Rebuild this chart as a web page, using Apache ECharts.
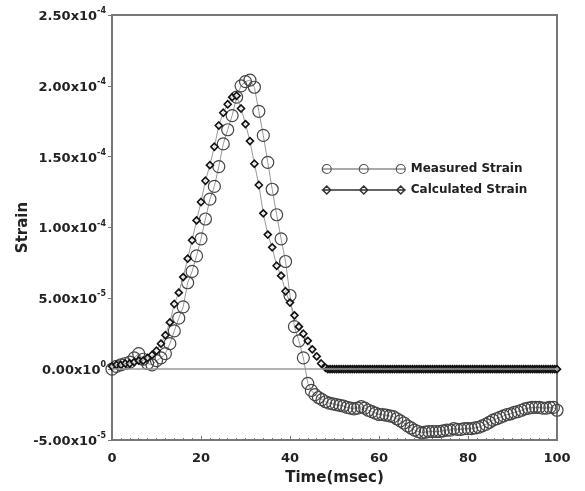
<!DOCTYPE html>
<html><head><meta charset="utf-8">
<script src="https://cdn.jsdelivr.net/npm/echarts@6/dist/echarts.min.js"></script>
<style>html,body{margin:0;padding:0;background:#fff}#c{width:585px;height:491px}</style>
</head><body><div id="c"></div>
<script>
// Time in msec, strain values in units of 1e-5
const measuredTime = [0,1,2,3,4,5,6,7,8,9,10,11,12,13,14,15,16,17,18,19,20,21,22,23,24,25,26,27,28,29,30,31,32,33,34,35,36,37,38,39,40,41,42,43,
  44,44.8,45.6,46.4,47.2,48,48.8,49.6,50.4,51.2,52,52.8,53.6,54.4,55.2,56,56.8,57.6,58.4,59.2,60,60.8,61.6,62.4,63.2,64,64.8,65.6,66.4,67.2,68,68.8,69.6,70.4,71.2,72,72.8,73.6,74.4,75.2,76,76.8,77.6,78.4,79.2,80,80.8,81.6,82.4,83.2,84,84.8,85.6,86.4,87.2,88,88.8,89.6,90.4,91.2,92,92.8,93.6,94.4,95.2,96,96.8,97.6,98.4,99.2,100];
const measuredStrain = [0.0,0.2,0.3,0.4,0.5,0.8,1.1,0.7,0.4,0.3,0.6,0.8,1.1,1.8,2.7,3.6,4.4,6.1,6.9,8.0,9.2,10.6,12.0,12.9,14.3,15.9,16.9,17.9,19.2,20.0,20.3,20.4,19.9,18.2,16.5,14.6,12.7,10.9,9.2,7.6,5.2,3.0,2.0,0.8,
  -1.0,-1.5,-1.8,-2.0,-2.15,-2.3,-2.4,-2.45,-2.5,-2.55,-2.6,-2.7,-2.75,-2.8,-2.75,-2.65,-2.75,-2.9,-3.0,-3.1,-3.2,-3.2,-3.25,-3.3,-3.35,-3.5,-3.65,-3.8,-4.0,-4.15,-4.3,-4.4,-4.5,-4.45,-4.4,-4.4,-4.4,-4.4,-4.35,-4.3,-4.3,-4.2,-4.25,-4.25,-4.2,-4.2,-4.2,-4.15,-4.1,-4.0,-3.9,-3.75,-3.6,-3.5,-3.4,-3.3,-3.2,-3.15,-3.05,-3.0,-2.9,-2.8,-2.75,-2.7,-2.7,-2.7,-2.75,-2.75,-2.7,-2.7,-2.9];
const calculatedTime = [0,1,2,3,4,5,6,7,8,9,10,11,12,13,14,15,16,17,18,19,20,21,22,23,24,25,26,27,28,29,30,31,32,33,34,35,36,37,38,39,40,41,42,43,44,45,46,47,48,
  48.5,49,49.5,50,50.5,51,51.5,52,52.5,53,53.5,54,54.5,55,55.5,56,56.5,57,57.5,58,58.5,59,59.5,60,60.5,61,61.5,62,62.5,63,63.5,64,64.5,65,65.5,66,66.5,67,67.5,68,68.5,69,69.5,70,70.5,71,71.5,72,72.5,73,73.5,74,74.5,75,75.5,76,76.5,77,77.5,78,78.5,79,79.5,80,80.5,81,81.5,82,82.5,83,83.5,84,84.5,85,85.5,86,86.5,87,87.5,88,88.5,89,89.5,90,90.5,91,91.5,92,92.5,93,93.5,94,94.5,95,95.5,96,96.5,97,97.5,98,98.5,99,99.5,100];
const calculatedStrain = [0.2,0.3,0.3,0.4,0.4,0.5,0.6,0.6,0.8,1.0,1.3,1.8,2.4,3.3,4.6,5.4,6.5,7.8,9.1,10.5,11.8,13.3,14.4,15.7,17.2,18.1,18.7,19.2,19.3,18.4,17.3,16.1,14.5,13.0,11.0,9.5,8.6,7.3,6.6,5.5,4.7,3.8,3.0,2.5,2.0,1.4,0.9,0.4,0.1,
  0,0,0,0,0,0,0,0,0,0,0,0,0,0,0,0,0,0,0,0,0,0,0,0,0,0,0,0,0,0,0,0,0,0,0,0,0,0,0,0,0,0,0,0,0,0,0,0,0,0,0,0,0,0,0,0,0,0,0,0,0,0,0,0,0,0,0,0,0,0,0,0,0,0,0,0,0,0,0,0,0,0,0,0,0,0,0,0,0,0,0,0,0,0,0,0,0,0,0,0,0,0,0,0];
const seriesNames = ['Measured Strain','Calculated Strain'];
const yTickMantissa = ['-5.00','0.00','5.00','1.00','1.50','2.00','2.50'];
const yTickExponent = ['-5','0','-5','-4','-4','-4','-4'];
const xTickLabels = ['0','20','40','60','80','100'];

const yMin = -5, yMax = 25, yInterval = 5;
const xMin = 0, xMax = 100, xInterval = 20;

const pairs = (xs, ys) => xs.map((x, i) => [x, ys[i]]);
const FONT = 'DejaVu Sans';
const AXIS = '#777';
const TXT = '#222';

const circleIcon = 'path://M0,4.5L84,4.5M9.5,4.5A4.5,4.5,0,1,1,0.5,4.5A4.5,4.5,0,1,1,9.5,4.5ZM46.5,4.5A4.5,4.5,0,1,1,37.5,4.5A4.5,4.5,0,1,1,46.5,4.5ZM83.5,4.5A4.5,4.5,0,1,1,74.5,4.5A4.5,4.5,0,1,1,83.5,4.5Z';
const diamondIcon = 'path://M0,4.5L84,4.5M1,4.5L5,0.5L9,4.5L5,8.5ZM38,4.5L42,0.5L46,4.5L42,8.5ZM75,4.5L79,0.5L83,4.5L79,8.5Z';

const chart = echarts.init(document.getElementById('c'), null, {renderer: 'canvas'});
chart.setOption({
  animation: false,
  backgroundColor: '#fff',
  grid: {left: 112, right: 28, top: 15, bottom: 48, show: true, borderColor: AXIS, borderWidth: 2, backgroundColor: 'transparent'},
  legend: {
    orient: 'vertical', left: 316, top: 158, itemWidth: 84, itemHeight: 9, itemGap: 9,
    textStyle: {fontFamily: FONT, fontWeight: 'bold', fontSize: 12, color: TXT},
    data: [
      {name: seriesNames[0], icon: circleIcon, itemStyle: {color: 'rgba(0,0,0,0)', borderColor: '#555', borderWidth: 1.2}},
      {name: seriesNames[1], icon: diamondIcon, itemStyle: {color: 'rgba(0,0,0,0)', borderColor: '#333', borderWidth: 1.5}}
    ]
  },
  xAxis: {
    type: 'value', min: xMin, max: xMax, interval: xInterval,
    name: 'Time(msec)', nameLocation: 'middle', nameGap: 31,
    nameTextStyle: {fontFamily: FONT, fontWeight: 'bold', fontSize: 15, color: TXT},
    axisLine: {show: true, onZero: false, lineStyle: {color: AXIS, width: 2}},
    axisTick: {show: true, inside: true, length: 4, lineStyle: {color: AXIS, width: 1}},
    minorTick: {show: true, splitNumber: 10, length: 2, lineStyle: {color: AXIS, width: 1}},
    splitLine: {show: false},
    axisLabel: {margin: 12, fontFamily: FONT, fontWeight: 'bold', fontSize: 13, color: TXT,
      formatter: v => xTickLabels[Math.round((v - xMin) / xInterval)]}
  },
  yAxis: {
    type: 'value', min: yMin, max: yMax, interval: yInterval,
    name: 'Strain', nameLocation: 'middle', nameGap: 81, nameRotate: 90, nameMoveOverlap: false,
    nameTextStyle: {fontFamily: FONT, fontWeight: 'bold', fontSize: 15, color: TXT},
    axisLine: {show: true, onZero: false, lineStyle: {color: AXIS, width: 2}},
    axisTick: {show: true, inside: false, length: 4, lineStyle: {color: AXIS, width: 1}},
    splitLine: {show: false},
    axisLabel: {margin: 6, color: TXT,
      formatter: v => { const i = Math.round((v - yMin) / yInterval); return '{m|' + yTickMantissa[i] + 'x10}{e|' + yTickExponent[i] + '}'; },
      rich: {
        m: {fontFamily: FONT, fontWeight: 'bold', fontSize: 13, color: TXT, lineHeight: 16, verticalAlign: 'bottom'},
        e: {fontFamily: FONT, fontWeight: 'bold', fontSize: 8, color: TXT, lineHeight: 11, verticalAlign: 'top'}
      }}
  },
  series: [
    {
      name: seriesNames[0], type: 'line', data: pairs(measuredTime, measuredStrain),
      symbol: 'circle', symbolSize: 12, showSymbol: true,
      lineStyle: {color: '#999', width: 1},
      itemStyle: {color: 'rgba(0,0,0,0)', borderColor: '#444', borderWidth: 1.2},
      markLine: {silent: true, symbol: ['none','none'], label: {show: false},
        lineStyle: {color: '#999', width: 1.5, type: 'solid'}, data: [{yAxis: 0}]},
      z: 2
    },
    {
      name: seriesNames[1], type: 'line', data: pairs(calculatedTime, calculatedStrain),
      symbol: 'diamond', symbolSize: 7, showSymbol: true,
      lineStyle: {color: '#999', width: 1},
      itemStyle: {color: 'rgba(255,255,255,0.6)', borderColor: '#111', borderWidth: 1.6},
      z: 3
    }
  ]
});
</script></body></html>
